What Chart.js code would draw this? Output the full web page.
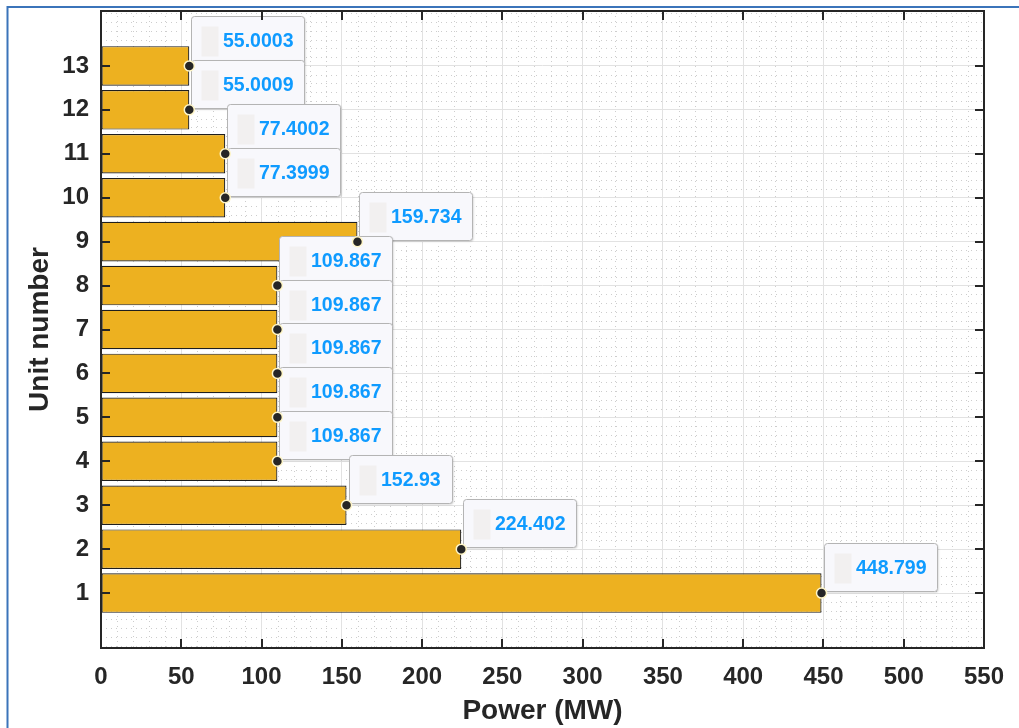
<!DOCTYPE html>
<html>
<head>
<meta charset="utf-8">
<script src="https://cdn.jsdelivr.net/npm/chart.js@4.4.1/dist/chart.umd.min.js"></script>
<style>
  html, body { margin: 0; padding: 0; background: #fff; }
  canvas { display: block; }
</style>
</head>
<body>
<canvas id="chart" width="1019" height="728"></canvas>
<script>
// unit dispatch result, one bar per generating unit
const units = [1, 2, 3, 4, 5, 6, 7, 8, 9, 10, 11, 12, 13];
const power = [448.799, 224.402, 152.93, 109.867, 109.867, 109.867, 109.867, 109.867,
               159.734, 77.3999, 77.4002, 55.0009, 55.0003];
const xTicks = [0, 50, 100, 150, 200, 250, 300, 350, 400, 450, 500, 550];
const yTicks = units;

const FONT = '"Liberation Sans", Arial, Helvetica, sans-serif';
const INK = '#262626';

const points = units.map((u, i) => ({ x: power[i], y: u }));

// dotted minor grid, figure outline
const background = {
  id: 'background',
  beforeDraw(chart) {
    const { ctx, chartArea: a, scales: { x, y } } = chart;
    ctx.save();
    ctx.strokeStyle = '#3b74ba';
    ctx.lineWidth = 2;
    ctx.beginPath();
    ctx.moveTo(7.5, 728);
    ctx.lineTo(7.5, 7);
    ctx.lineTo(1019, 7);
    ctx.stroke();

    ctx.strokeStyle = '#cdcdcd';
    ctx.lineWidth = 1;
    ctx.setLineDash([1, 4]);
    ctx.beginPath();
    for (let v = 0; v <= 550; v += 10) {
      if (v % 50 === 0) continue;
      const px = Math.round(x.getPixelForValue(v)) + 0.5;
      ctx.moveTo(px, a.top);
      ctx.lineTo(px, a.bottom);
    }
    for (let k = -1; k * 0.2 <= 14.25; k++) {
      const v = k * 0.2;
      if (Math.abs(v - Math.round(v)) < 1e-6 && yTicks.includes(Math.round(v))) continue;
      const py = Math.round(y.getPixelForValue(v)) + 0.5;
      if (py < a.top || py > a.bottom) continue;
      ctx.moveTo(a.left, py);
      ctx.lineTo(a.right, py);
    }
    ctx.stroke();
    ctx.restore();
  }
};

// value tips next to each bar end, drawn under the markers
const dataTips = {
  id: 'dataTips',
  beforeDatasetDraw(chart, args) {
    if (args.meta.type !== 'scatter') return;
    const { ctx, scales: { x, y } } = chart;
    ctx.save();
    ctx.font = 'bold 19.5px ' + FONT;
    for (let i = power.length - 1; i >= 0; i--) {
      const px = Math.round(x.getPixelForValue(power[i]));
      const py = Math.round(y.getPixelForValue(units[i]));
      const label = String(power[i]);
      const w = Math.round(ctx.measureText(label).width + 43);
      const h = 48;
      const bx = px + 2.5;
      const by = py - 2 - h + 0.5;

      ctx.shadowColor = 'rgba(0,0,0,0.18)';
      ctx.shadowBlur = 2;
      ctx.shadowOffsetX = 1;
      ctx.shadowOffsetY = 1;
      ctx.fillStyle = '#f8f8fc';
      ctx.beginPath();
      ctx.roundRect(bx, by, w, h, 3);
      ctx.fill();
      ctx.shadowColor = 'transparent';
      ctx.strokeStyle = '#b4b4b4';
      ctx.lineWidth = 1;
      ctx.stroke();

      ctx.fillStyle = '#f2f0f0';
      ctx.fillRect(bx + 10, by + 10, 17, 30);

      ctx.fillStyle = '#0f9bff';
      ctx.textAlign = 'left';
      ctx.textBaseline = 'middle';
      ctx.fillText(label, bx + 31.5, by + 25);
    }
    ctx.restore();
  }
};

// axes box with inward tick marks on all four sides
const axesBox = {
  id: 'axesBox',
  afterDatasetsDraw(chart) {
    const { ctx, chartArea: a, scales: { x, y } } = chart;
    const len = 9;
    ctx.save();
    ctx.strokeStyle = INK;
    ctx.lineWidth = 2;
    ctx.beginPath();
    xTicks.forEach(v => {
      const px = Math.round(x.getPixelForValue(v));
      ctx.moveTo(px, a.bottom);
      ctx.lineTo(px, a.bottom - len);
      ctx.moveTo(px, a.top);
      ctx.lineTo(px, a.top + len);
    });
    yTicks.forEach(v => {
      const py = Math.round(y.getPixelForValue(v));
      ctx.moveTo(a.left, py);
      ctx.lineTo(a.left + len, py);
      ctx.moveTo(a.right, py);
      ctx.lineTo(a.right - len, py);
    });
    ctx.stroke();
    ctx.strokeRect(a.left, a.top, a.right - a.left, a.bottom - a.top);
    ctx.restore();
  }
};

Chart.defaults.font.family = FONT;
Chart.defaults.color = INK;

new Chart(document.getElementById('chart'), {
  type: 'bar',
  data: {
    datasets: [
      {
        type: 'bar',
        data: points,
        backgroundColor: '#EDB120',
        borderColor: '#1e1e1e',
        borderWidth: 1.2,
        borderSkipped: false,
        barPercentage: 0.9,
        categoryPercentage: 1,
        order: 1
      },
      {
        type: 'scatter',
        data: points,
        pointRadius: 5,
        pointBackgroundColor: INK,
        pointBorderColor: '#fff6c8',
        pointBorderWidth: 1.5,
        showLine: false,
        order: 0
      }
    ]
  },
  options: {
    indexAxis: 'y',
    responsive: false,
    animation: false,
    events: [],
    layout: { padding: { left: 0, top: 11, right: 35, bottom: 0 } },
    plugins: {
      legend: { display: false },
      tooltip: { enabled: false }
    },
    scales: {
      x: {
        type: 'linear',
        position: 'bottom',
        min: 0,
        max: 550,
        offset: false,
        afterBuildTicks: s => { s.ticks = xTicks.map(v => ({ value: v })); },
        afterFit: s => { s.height = 80; s.paddingLeft = 0; s.paddingRight = 0; },
        grid: { color: '#e2e2e2', lineWidth: 1, drawTicks: false, offset: false },
        border: { display: false },
        ticks: {
          padding: 15,
          color: INK,
          font: { size: 24, weight: 'bold' },
          maxRotation: 0
        },
        title: {
          display: true,
          text: 'Power (MW)',
          color: INK,
          font: { size: 28, weight: 'bold' },
          padding: { top: 0, bottom: 0 }
        }
      },
      y: {
        type: 'linear',
        position: 'left',
        min: -0.25,
        max: 14.25,
        offset: false,
        afterBuildTicks: s => { s.ticks = yTicks.map(v => ({ value: v })); },
        afterFit: s => { s.width = 101; s.paddingTop = 0; s.paddingBottom = 0; },
        grid: { color: '#e2e2e2', lineWidth: 1, drawTicks: false, offset: false },
        border: { display: false },
        ticks: {
          padding: 12,
          color: INK,
          font: { size: 24, weight: 'bold' }
        },
        title: {
          display: true,
          text: 'Unit number',
          color: INK,
          font: { size: 28, weight: 'bold' },
          padding: { top: 23, bottom: 0 }
        }
      }
    }
  },
  plugins: [background, dataTips, axesBox]
});
</script>
</body>
</html>
